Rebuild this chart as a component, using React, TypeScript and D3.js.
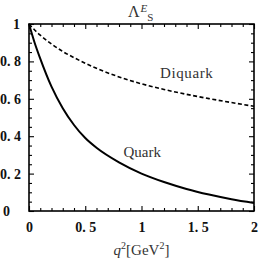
// @ts-nocheck
import * as d3 from "d3"
import { useEffect, useRef } from "react"
import * as React from "react"

// q^2 in GeV^2
const q2 = [0, 0.05, 0.1, 0.2, 0.3, 0.4, 0.5, 0.6, 0.8, 1.0, 1.2, 1.4, 1.6, 1.8, 2.0]
const quark = [1, 0.9, 0.815, 0.665, 0.55, 0.46, 0.39, 0.338, 0.26, 0.2, 0.155, 0.118, 0.088, 0.063, 0.043]
const diquark = [1, 0.968, 0.94, 0.893, 0.853, 0.82, 0.79, 0.763, 0.717, 0.68, 0.65, 0.624, 0.601, 0.58, 0.56]

const xTicks = [0, 0.5, 1, 1.5, 2]
const xTickLabels = ["0", "0. 5", "1", "1. 5", "2"]
const yTicks = [0, 0.2, 0.4, 0.6, 0.8, 1]
const yTickLabels = ["0", "0. 2", "0. 4", "0. 6", "0. 8", "1"]

const W = 273
const H = 261
const margin = { top: 24, right: 19, bottom: 50, left: 29 }
const font = "'Liberation Serif', 'DejaVu Serif', serif"

function buildSVG(node: SVGSVGElement) {
  const svg = d3.select(node)
  svg.selectAll("*").remove()

  const x = d3.scaleLinear().domain([0, 2]).range([margin.left, W - margin.right])
  const y = d3.scaleLinear().domain([0, 1]).range([H - margin.bottom, margin.top])

  const xMinor = d3.range(0, 2.0001, 0.1).filter(v => Math.abs(v * 2 - Math.round(v * 2)) > 1e-6)
  const yMinor = d3.range(0, 1.0001, 0.05).filter(v => Math.abs(v * 5 - Math.round(v * 5)) > 1e-6)

  const styleAxis = g => {
    g.select(".domain").remove()
    g.selectAll("line").attr("stroke", "#000").attr("stroke-width", 1.1)
  }

  // minor ticks, all four sides, pointing inward
  svg.append("g").attr("transform", `translate(0,${y(0)})`)
    .call(d3.axisBottom(x).tickValues(xMinor).tickSize(-3).tickFormat(() => ""))
    .call(styleAxis)
  svg.append("g").attr("transform", `translate(0,${y(1)})`)
    .call(d3.axisTop(x).tickValues(xMinor).tickSize(-3).tickFormat(() => ""))
    .call(styleAxis)
  svg.append("g").attr("transform", `translate(${x(0)},0)`)
    .call(d3.axisLeft(y).tickValues(yMinor).tickSize(-3).tickFormat(() => ""))
    .call(styleAxis)
  svg.append("g").attr("transform", `translate(${x(2)},0)`)
    .call(d3.axisRight(y).tickValues(yMinor).tickSize(-3).tickFormat(() => ""))
    .call(styleAxis)

  // major ticks with labels
  const xb = svg.append("g").attr("transform", `translate(0,${y(0)})`)
    .call(d3.axisBottom(x).tickValues(xTicks).tickSize(-5).tickPadding(11)
      .tickFormat((d, i) => xTickLabels[i]))
    .call(styleAxis)
  xb.selectAll("text").attr("font-family", font).attr("font-size", 14)
    .attr("font-weight", "bold").attr("fill", "#111")

  svg.append("g").attr("transform", `translate(0,${y(1)})`)
    .call(d3.axisTop(x).tickValues(xTicks).tickSize(-5).tickFormat(() => ""))
    .call(styleAxis)

  const yl = svg.append("g").attr("transform", `translate(${x(0)},0)`)
    .call(d3.axisLeft(y).tickValues(yTicks).tickSize(-5).tickPadding(6)
      .tickFormat((d, i) => yTickLabels[i]))
    .call(styleAxis)
  yl.selectAll("text").attr("font-family", font).attr("font-size", 14)
    .attr("font-weight", "bold").attr("fill", "#111")
    .attr("text-anchor", "start")
    .attr("x", d => d === 0 ? -26 : d === 1 ? -16 : -29)

  svg.append("g").attr("transform", `translate(${x(2)},0)`)
    .call(d3.axisRight(y).tickValues(yTicks).tickSize(-5).tickFormat(() => ""))
    .call(styleAxis)

  // frame
  svg.append("rect")
    .attr("x", x(0)).attr("y", y(1))
    .attr("width", x(2) - x(0)).attr("height", y(0) - y(1))
    .attr("fill", "none").attr("stroke", "#000").attr("stroke-width", 1.6)

  const line = d3.line<number>()
    .x((d, i) => x(q2[i]))
    .y(d => y(d))
    .curve(d3.curveMonotoneX)

  svg.append("path").datum(quark)
    .attr("d", line).attr("fill", "none")
    .attr("stroke", "#000").attr("stroke-width", 2)

  svg.append("path").datum(diquark)
    .attr("d", line).attr("fill", "none")
    .attr("stroke", "#000").attr("stroke-width", 1.6)
    .attr("stroke-dasharray", "4,2.5")

  // curve labels
  svg.append("text").attr("x", x(0.84)).attr("y", 157)
    .attr("font-family", font).attr("font-size", 15).attr("fill", "#333")
    .text("Quark")
  svg.append("text").attr("x", x(1.165)).attr("y", 78)
    .attr("font-family", font).attr("font-size", 15).attr("fill", "#333")
    .attr("letter-spacing", 0.6)
    .text("Diquark")

  // title  Λ^E_S
  const title = svg.append("text").attr("x", 128).attr("y", 17)
    .attr("font-family", font).attr("fill", "#333")
  title.append("tspan").attr("font-size", 16).text("Λ")
  title.append("tspan").attr("font-size", 11).attr("font-style", "italic")
    .attr("dx", 1).attr("dy", -5).text("E")
  title.append("tspan").attr("font-size", 11)
    .attr("dx", 0).attr("dy", 9).text("S")

  // x-axis title  q^2[GeV^2]
  const xt = svg.append("text").attr("x", x(1)).attr("y", 255)
    .attr("text-anchor", "middle")
    .attr("font-family", font).attr("font-size", 15).attr("fill", "#333")
  xt.append("tspan").attr("font-style", "italic").text("q")
  xt.append("tspan").attr("font-size", 10).attr("dy", -6).text("2")
  xt.append("tspan").attr("dy", 6).text("[GeV")
  xt.append("tspan").attr("font-size", 10).attr("dy", -6).text("2")
  xt.append("tspan").attr("dy", 6).text("]")
}

export default function App() {
  const ref = useRef<SVGSVGElement>(null)
  useEffect(() => {
    buildSVG(ref.current)
  }, [])
  return (
    <svg ref={ref} width={W} height={H}
      style={{ position: "absolute", left: 0, top: 0, background: "#fff" }} />
  )
}
